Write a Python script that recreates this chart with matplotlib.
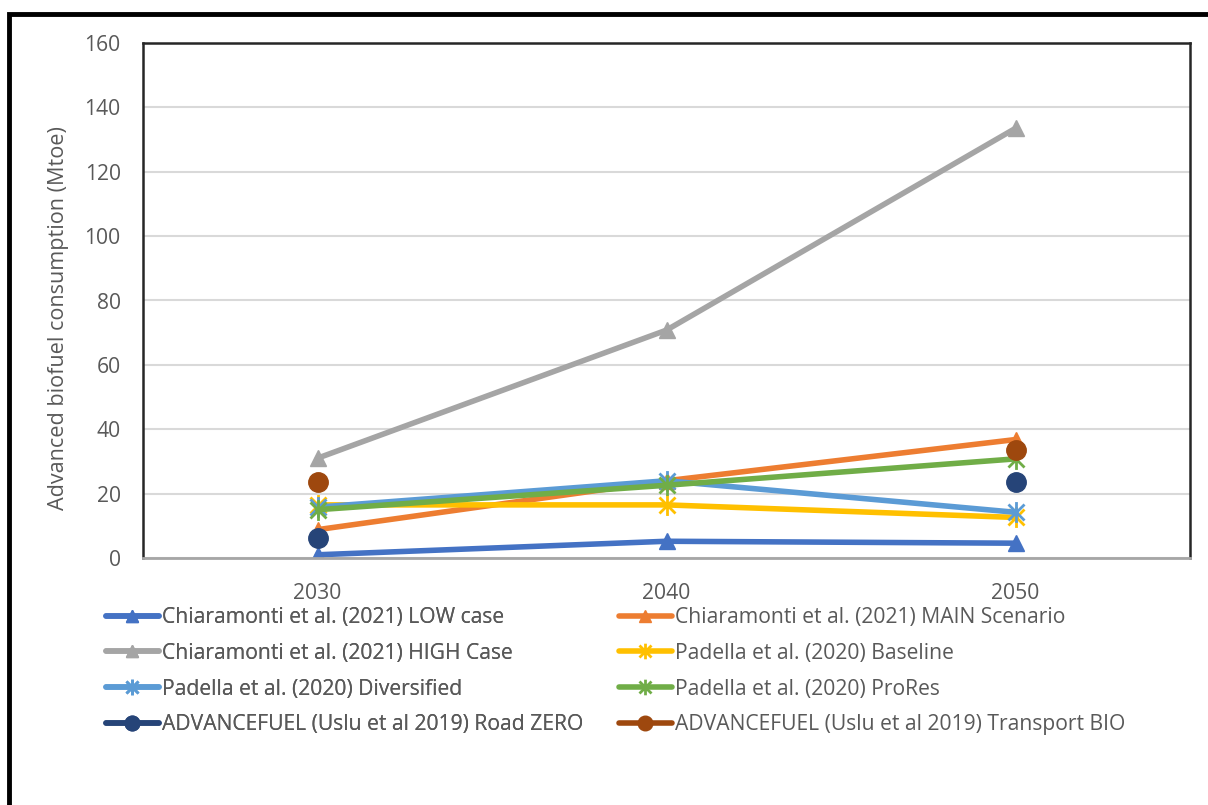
import numpy as np
import matplotlib.pyplot as plt
from matplotlib.path import Path
from matplotlib.patches import Rectangle

years = ['2030', '2040', '2050']

low_case = [1.0, 5.2, 4.6]
main_scenario = [8.8, 24.0, 36.8]
high_case = [31.0, 70.8, 133.5]
baseline = [16.5, 16.5, 12.6]
diversified = [15.8, 24.0, 14.2]
prores = [15.0, 22.6, 30.8]
road_zero = [6.3, np.nan, 23.5]
transport_bio = [23.5, np.nan, 33.5]

labels = [
    'Chiaramonti et al. (2021) LOW case',
    'Chiaramonti et al. (2021) MAIN Scenario',
    'Chiaramonti et al. (2021) HIGH Case',
    'Padella et al. (2020) Baseline',
    'Padella et al. (2020) Diversified',
    'Padella et al. (2020) ProRes',
    'ADVANCEFUEL (Uslu et al 2019) Road ZERO',
    'ADVANCEFUEL (Uslu et al 2019) Transport BIO',
]
colors = ['#4472C4', '#ED7D31', '#A5A5A5', '#FFC000',
          '#5B9BD5', '#70AD47', '#264478', '#9E480E']

# Excel-style star: an X with a vertical stroke through it
star = Path([(-1, -1), (1, 1), (-1, 1), (1, -1), (0, -1.3), (0, 1.3)],
            [Path.MOVETO, Path.LINETO, Path.MOVETO, Path.LINETO,
             Path.MOVETO, Path.LINETO])

series = [low_case, main_scenario, high_case, baseline,
          diversified, prores, road_zero, transport_bio]
markers = ['^', '^', '^', star, star, star, 'o', 'o']
sizes = [11, 11, 11, 15, 15, 15, 14, 14]

plt.rcParams['font.family'] = ['Open Sans', 'DejaVu Sans']
FS = 15.2
GREY = '#595959'

fig = plt.figure(figsize=(12.08, 8.05), dpi=100)
ax = fig.add_axes([143 / 1208, 1 - 558 / 805, (1190 - 143) / 1208, (558 - 43) / 805])

x = np.arange(len(years))
handles = []
for vals, lab, col, mk, ms in zip(series, labels, colors, markers, sizes):
    if isinstance(mk, Path):
        h, = ax.plot(x, vals, color=col, lw=4, marker=mk, ms=ms,
                     mec=col, mew=2, label=lab, solid_capstyle='round')
    else:
        h, = ax.plot(x, vals, color=col, lw=4, marker=mk, ms=ms,
                     mec=col, mfc=col, label=lab, solid_capstyle='round')
    handles.append(h)

ax.set_xlim(-0.5, 2.5)
ax.set_ylim(0, 160)
ax.set_yticks(range(0, 161, 20))
ax.set_xticks(x)
ax.set_xticklabels(years)
ax.yaxis.grid(True, color='#D9D9D9', lw=1.5)
ax.set_axisbelow(True)
ax.tick_params(axis='x', length=0, labelsize=FS, colors=GREY, pad=18)
ax.tick_params(axis='y', length=0, labelsize=FS, colors=GREY, pad=16)
ax.set_ylabel('Advanced biofuel consumption (Mtoe)', fontsize=15.6,
              color=GREY)
ax.yaxis.set_label_coords(-0.071, 0.466)
for side in ['top', 'left', 'right']:
    ax.spines[side].set_color('#262626')
    ax.spines[side].set_linewidth(1.8)
ax.spines['bottom'].set_color('#A6A6A6')
ax.spines['bottom'].set_linewidth(2)

# legend laid out as two fixed columns, row-wise like the series order
leg_opts = dict(loc='upper left', frameon=False, fontsize=FS,
                labelcolor=GREY, handlelength=2.5, handletextpad=0.15,
                labelspacing=0.7, markerscale=0.75, borderpad=0,
                borderaxespad=0)
left = fig.legend(handles[0::2], labels[0::2],
                  bbox_to_anchor=(106 / 1208, 1 - 607 / 805), **leg_opts)
fig.add_artist(left)
fig.legend(handles[1::2], labels[1::2],
           bbox_to_anchor=(619 / 1208, 1 - 607 / 805), **leg_opts)

# heavy outer frame running off the right and bottom edges
fig.patches.append(Rectangle((9 / 1208, -0.1), 1.2, 1 - 14 / 805 + 0.1,
                             transform=fig.transFigure, fill=False,
                             ec='black', lw=3.5))

fig.savefig('out.png', dpi=100)
